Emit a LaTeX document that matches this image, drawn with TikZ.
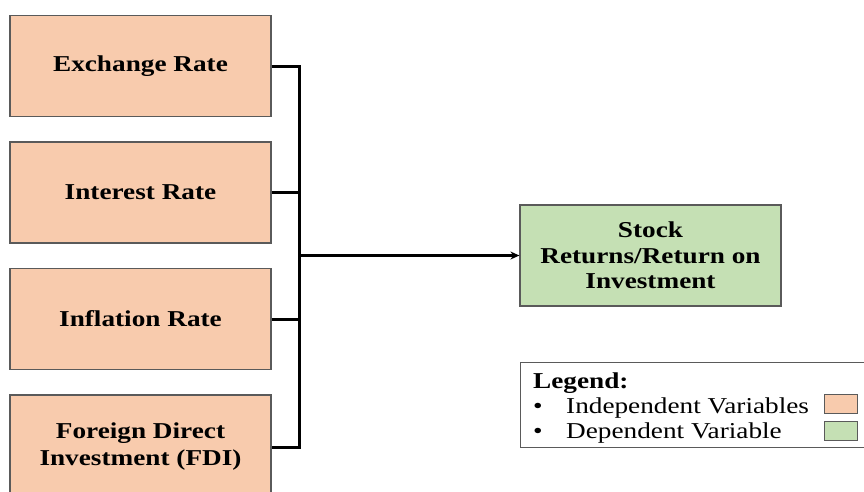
\documentclass[tikz,border=0pt]{standalone}
\usepackage{fontspec}
\setmainfont{Liberation Serif}[FakeStretch=1.2]
\usetikzlibrary{arrows.meta}
\definecolor{indep}{HTML}{F8CBAD}
\definecolor{dep}{HTML}{C5E0B4}
\definecolor{edge}{HTML}{5A5A5A}
\tikzset{
  varbox/.style={draw=edge, line width=1.2pt, minimum width=261pt, minimum height=101pt, inner sep=0pt, align=center, font=\fontsize{22.7}{27}\selectfont\bfseries},
  indepbox/.style={varbox, fill=indep},
  depbox/.style={varbox, fill=dep, font=\fontsize{22.7}{25.5}\selectfont\bfseries},
  conn/.style={line width=3pt, draw=black},
  legtext/.style={anchor=base west, inner sep=0pt, font=\fontsize{22.7}{27}\selectfont},
  swatch/.style={draw=edge, line width=1pt, minimum width=33pt, minimum height=19pt, inner sep=0pt}
}
\begin{document}
\begin{tikzpicture}[x=1pt, y=-1pt]
\useasboundingbox (0,0) rectangle (864,491);
\node[indepbox] (b1) at (140.5,66) {Exchange Rate};
\node[indepbox] (b2) at (140.5,192.5) {Interest Rate};
\node[indepbox] (b3) at (140.5,319) {Inflation Rate};
\node[indepbox, minimum height=104pt] (b4) at (140.5,447) {Foreign Direct\\Investment (FDI)};
\node[depbox] (g) at (650.5,255.5) {Stock\\Returns/Return on\\Investment};
\coordinate (bus) at (299,0);
\draw[conn, line cap=butt, line join=miter] (b1.east) -- (b1.east -| bus) -- (b4.east -| bus) -- (b4.east);
\draw[conn] (b2.east) -- (b2.east -| bus);
\draw[conn] (b3.east) -- (b3.east -| bus);
\draw[line width=2.5pt, -{Stealth[length=9pt,width=8pt]}] (bus |- g.west) -- (g.west);
% legend
\node[draw=edge, line width=1.2pt, fill=white, minimum width=360pt, minimum height=85pt, inner sep=0pt, anchor=north west] (leg) at (520,362) {};
\node[legtext, font=\fontsize{22.7}{27}\selectfont\bfseries] (lt) at (533,388) {Legend:};
\node[legtext] (l1b) at (533,413) {•};
\node[legtext] (l1) at (566,413) {Independent Variables};
\node[legtext] (l2b) at (533,438) {•};
\node[legtext] (l2) at (566,438) {Dependent Variable};
\node[swatch, fill=indep] (s1) at (840.5,404) {};
\node[swatch, fill=dep] (s2) at (840.5,430.5) {};
\end{tikzpicture}
\end{document}
